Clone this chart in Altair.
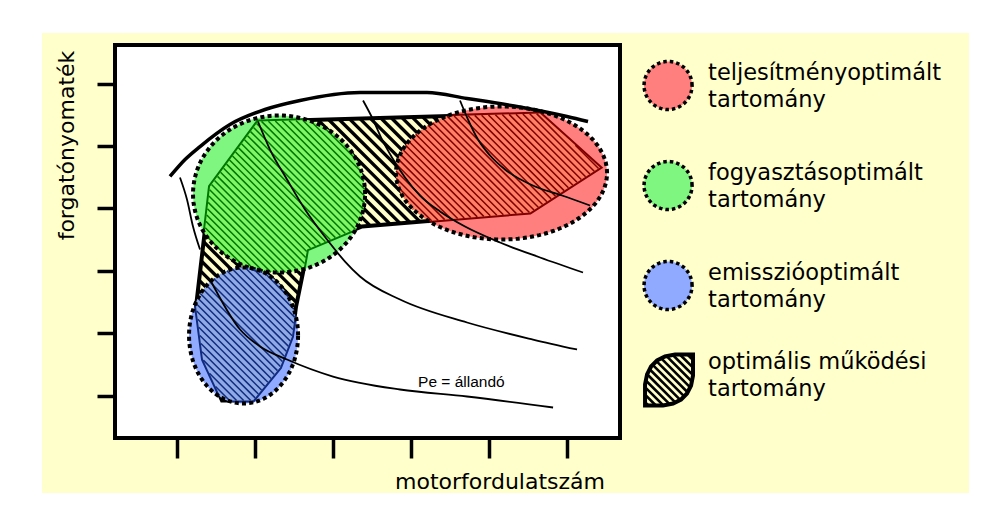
import numpy as np
import pandas as pd
import altair as alt

# ---------------- data (diagram units: ticks 1..6 on both axes) ----------------
tick_vals = [1, 2, 3, 4, 5, 6]

# full-load torque curve (upper envelope)
envelope_x = [0.910, 1.103, 1.295, 1.679, 2.128, 2.577, 3.346, 4.205, 4.718, 5.359, 6.000, 6.269]
envelope_y = [4.510, 4.782, 4.990, 5.343, 5.583, 5.728, 5.856, 5.856, 5.760, 5.631, 5.471, 5.391]

# thin boundary line on the left
leftline_x = [1.038, 1.128, 1.205, 1.295]
leftline_y = [4.494, 4.141, 3.708, 3.340]

# constant power curves (Pe = állandó)
pe_a_x = [1.423, 1.808, 2.064, 2.410, 3.000, 3.859, 4.718, 5.821]
pe_a_y = [2.859, 2.058, 1.785, 1.577, 1.304, 1.096, 0.984, 0.808]
pe_b_x = [2.038, 2.192, 2.410, 2.641, 2.923, 3.154, 3.346, 3.859, 4.718, 5.564, 6.128]
pe_b_y = [5.391, 4.942, 4.462, 3.981, 3.500, 3.147, 2.907, 2.538, 2.170, 1.897, 1.737]
pe_c_x = [3.385, 3.513, 3.628, 3.756, 3.923, 4.115, 4.372, 4.692, 5.141, 5.654, 6.205]
pe_c_y = [5.728, 5.423, 5.103, 4.814, 4.494, 4.205, 3.949, 3.708, 3.452, 3.212, 2.971]
pe_d_x = [4.628, 4.731, 4.859, 5.013, 5.205, 5.590, 5.936, 6.295]
pe_d_y = [5.728, 5.423, 5.103, 4.846, 4.622, 4.349, 4.205, 4.045]

# optimal operating region (hatched polygon)
opt_x = [2.038, 5.654, 6.423, 5.526, 3.372, 2.667, 2.615, 2.526, 2.474, 2.321, 1.974, 1.577, 1.333, 1.244, 1.423]
opt_y = [5.391, 5.519, 4.654, 3.933, 3.708, 3.340, 2.971, 2.426, 1.946, 1.449, 0.920, 0.920, 1.577, 2.426, 4.349]

# optimum regions (ellipses)
region_names = ["teljesítményoptimált", "fogyasztásoptimált", "emisszióoptimált"]
region_colors = ["#ff0000", "#00ee00", "#2255ff"]
region_cx = [5.160, 2.308, 1.853]
region_cy = [4.566, 4.229, 1.962]
region_rx = [1.353, 1.103, 0.699]
region_ry = [1.066, 1.258, 1.090]

# legend
legend_cx = 7.295
legend_cy = [5.968, 4.365, 2.763]
legend_rx = 0.308
legend_ry = 0.385
leaf_x = [7.000, 7.000, 7.026, 7.077, 7.154, 7.256, 7.385, 7.615, 7.615, 7.590, 7.538, 7.462, 7.359, 7.231]
leaf_y = [0.840, 1.176, 1.337, 1.465, 1.561, 1.625, 1.657, 1.657, 1.321, 1.160, 1.032, 0.936, 0.872, 0.840]
legend_text_x = 7.808
legend_labels = ["teljesítményoptimált\ntartomány",
                 "fogyasztásoptimált\ntartomány",
                 "emisszióoptimált\ntartomány",
                 "optimális működési\ntartomány"]
legend_text_y = [6.052, 4.449, 2.847, 1.421]

x_title = "motorfordulatszám"
x_title_pos = (5.141, -0.506)
y_title = "forgatónyomaték"
y_title_pos = (-0.321, 5.006)
pe_label = "Pe = állandó"
pe_label_pos = (4.090, 1.144)

# ---------------- scales ----------------
X0, X1 = 0.205, 6.679
Y0, Y1 = 0.319, 6.617
W, H = 505, 393
SX = W / (X1 - X0)
SY = H / (Y1 - Y0)

xs = alt.Scale(domain=[X0, X1], nice=False, zero=False)
ys = alt.Scale(domain=[Y0, Y1], nice=False, zero=False)
xaxis = alt.Axis(values=tick_vals, labels=False, domain=False, grid=False, ticks=True,
                 tickSize=20, tickWidth=3.5, tickColor="black", title=None, zindex=1)
yaxis = alt.Axis(values=tick_vals, labels=False, domain=False, grid=False, ticks=True,
                 tickSize=18, tickWidth=3.5, tickColor="black", title=None, zindex=1)


def X(f="x"):
    return alt.X(f"{f}:Q", scale=xs, axis=xaxis)


def Y(f="y"):
    return alt.Y(f"{f}:Q", scale=ys, axis=yaxis)


# ---------------- geometry helpers ----------------
def to_screen(xv, yv):
    return (np.asarray(xv, float) - X0) * SX, (np.asarray(yv, float) - Y0) * SY


def from_screen(Xv, Yv):
    return np.asarray(Xv) / SX + X0, np.asarray(Yv) / SY + Y0


def ellipse(cx, cy, rx, ry, n=120):
    t = np.linspace(0, 2 * np.pi, n, endpoint=False)
    return list(cx + rx * np.cos(t)), list(cy + ry * np.sin(t))


def clip_convex(sx, sy, cx_, cy_):
    SXs, SYs = to_screen(sx, sy)
    CXs, CYs = to_screen(cx_, cy_)
    subj = list(zip(SXs, SYs))
    clip = list(zip(CXs, CYs))

    def inside(p, a, b):
        return (b[0] - a[0]) * (p[1] - a[1]) - (b[1] - a[1]) * (p[0] - a[0]) >= 0

    def inter(p, q, a, b):
        x1, y1 = p; x2, y2 = q; x3, y3 = a; x4, y4 = b
        den = (x1 - x2) * (y3 - y4) - (y1 - y2) * (x3 - x4)
        t = ((x1 - x3) * (y3 - y4) - (y1 - y3) * (x3 - x4)) / den
        return (x1 + t * (x2 - x1), y1 + t * (y2 - y1))

    out = subj
    for i in range(len(clip)):
        a = clip[i]; b = clip[(i + 1) % len(clip)]
        inp = out; out = []
        if not inp:
            break
        s = inp[-1]
        for e in inp:
            if inside(e, a, b):
                if not inside(s, a, b):
                    out.append(inter(s, e, a, b))
                out.append(e)
            elif inside(s, a, b):
                out.append(inter(s, e, a, b))
            s = e
    if not out:
        return [], []
    ox, oy = from_screen([p[0] for p in out], [p[1] for p in out])
    return list(ox), list(oy)


def hatch(xv, yv, spacing):
    Xs, Ys = to_screen(xv, yv)
    s = Xs + Ys
    w = Xs - Ys
    n = len(Xs)
    step = spacing * np.sqrt(2)
    k0 = int(np.floor(s.min() / step))
    k1 = int(np.ceil(s.max() / step))
    rows = []
    for k in range(k0, k1 + 1):
        c = k * step + 0.5 * step
        ws = []
        for i in range(n):
            j = (i + 1) % n
            a, b = s[i], s[j]
            if (a <= c < b) or (b <= c < a):
                t = (c - a) / (b - a)
                ws.append(w[i] + t * (w[j] - w[i]))
        ws.sort()
        for m in range(0, len(ws) - 1, 2):
            w1, w2 = ws[m], ws[m + 1]
            xa, ya = from_screen((c + w1) / 2, (c - w1) / 2)
            xb, yb = from_screen((c + w2) / 2, (c - w2) / 2)
            rows.append({"x": float(xa), "y": float(ya), "x2": float(xb), "y2": float(yb)})
    return pd.DataFrame(rows, columns=["x", "y", "x2", "y2"])


def poly_df(xv, yv):
    return pd.DataFrame({"x": list(xv), "y": list(yv), "i": list(range(len(xv)))})


def poly_layer(df, **kw):
    return alt.Chart(df).mark_line(interpolate="linear-closed", **kw).encode(
        x=X(), y=Y(), order=alt.Order("i:Q"))


def hatch_layer(df, width):
    return alt.Chart(df).mark_rule(color="black", strokeWidth=width, strokeCap="butt").encode(
        x=X(), y=Y(), x2=alt.X2("x2:Q"), y2=alt.Y2("y2:Q"))


def curves_layer(curves, width):
    rows = []
    for cid, (cxv, cyv) in enumerate(curves):
        for i, (a, b) in enumerate(zip(cxv, cyv)):
            rows.append({"x": a, "y": b, "i": i, "id": cid})
    return alt.Chart(pd.DataFrame(rows)).mark_line(
        color="black", strokeWidth=width, interpolate="monotone").encode(
        x=X(), y=Y(), detail="id:N", order=alt.Order("i:Q"))


one = pd.DataFrame({"a": [0]})
layers = []

# backgrounds
layers.append(alt.Chart(one).mark_rect(fill="#ffffcc").encode(
    x=alt.value(-73), x2=alt.value(854), y=alt.value(-12), y2=alt.value(448)))
layers.append(alt.Chart(one).mark_rect(fill="white").encode(
    x=alt.value(0), x2=alt.value(W), y=alt.value(0), y2=alt.value(H)))

# optimal region: cream fill + coarse hatch + thick outline
opt_df = poly_df(opt_x, opt_y)
layers.append(poly_layer(opt_df, fill="#ffffcc", strokeOpacity=0))
layers.append(hatch_layer(hatch(opt_x, opt_y, 7.6), 3.3))
layers.append(poly_layer(opt_df, stroke="black", strokeWidth=4, fillOpacity=0))

# fine hatch inside the ellipses (covers inner half of the outline there)
ell = [ellipse(cx, cy, rx, ry) for cx, cy, rx, ry in zip(region_cx, region_cy, region_rx, region_ry)]
for ex, ey in ell:
    ix, iy = clip_convex(opt_x, opt_y, ex, ey)
    if len(ix) >= 3:
        layers.append(poly_layer(poly_df(ix, iy), fill="#ffffcc", strokeOpacity=0))
        layers.append(hatch_layer(hatch(ix, iy, 5.0), 1.5))

# ellipses
for (ex, ey), col in zip(ell, region_colors):
    layers.append(poly_layer(poly_df(ex, ey), fill=col, fillOpacity=0.5, stroke="black",
                             strokeWidth=4, strokeDash=[4, 3.2], strokeCap="butt"))

# curves
layers.append(curves_layer([(leftline_x, leftline_y), (pe_a_x, pe_a_y), (pe_b_x, pe_b_y),
                            (pe_c_x, pe_c_y), (pe_d_x, pe_d_y)], 1.8))
layers.append(curves_layer([(envelope_x, envelope_y)], 3.5))

# frame
layers.append(alt.Chart(one).mark_rect(filled=False, stroke="black", strokeWidth=4).encode(
    x=alt.value(0), x2=alt.value(W), y=alt.value(0), y2=alt.value(H)))

# legend symbols
for cy, col in zip(legend_cy, region_colors):
    lx, ly = ellipse(legend_cx, cy, legend_rx, legend_ry, 60)
    d = poly_df(lx, ly)
    layers.append(poly_layer(d, fill="white", strokeOpacity=0))
    layers.append(poly_layer(d, fill=col, fillOpacity=0.5, stroke="black", strokeWidth=3.5,
                             strokeDash=[3.5, 3], strokeCap="butt"))
leaf_df = poly_df(leaf_x, leaf_y)
layers.append(poly_layer(leaf_df, fill="#ffffcc", strokeOpacity=0))
layers.append(hatch_layer(hatch(leaf_x, leaf_y, 5.3), 2.6))
layers.append(poly_layer(leaf_df, stroke="black", strokeWidth=4, fillOpacity=0))

# texts
legend_df = pd.DataFrame({"x": [legend_text_x] * len(legend_labels), "y": legend_text_y, "t": legend_labels})
layers.append(alt.Chart(legend_df).mark_text(
    align="left", baseline="alphabetic", font="DejaVu Sans", fontSize=22.5, lineHeight=26.5,
    lineBreak="\n", color="black").encode(x=X(), y=Y(), text="t:N"))
layers.append(alt.Chart(pd.DataFrame([{"x": x_title_pos[0], "y": x_title_pos[1], "t": x_title}])).mark_text(
    align="center", baseline="alphabetic", font="DejaVu Sans", fontSize=22, color="black").encode(
    x=X(), y=Y(), text="t:N"))
layers.append(alt.Chart(pd.DataFrame([{"x": y_title_pos[0], "y": y_title_pos[1], "t": y_title}])).mark_text(
    align="center", baseline="alphabetic", font="DejaVu Sans", fontSize=22, angle=270, color="black").encode(
    x=X(), y=Y(), text="t:N"))
layers.append(alt.Chart(pd.DataFrame([{"x": pe_label_pos[0], "y": pe_label_pos[1], "t": pe_label}])).mark_text(
    align="left", baseline="alphabetic", font="Liberation Sans", fontSize=15.5, color="black").encode(
    x=X(), y=Y(), text="t:N"))

chart = alt.layer(*layers).properties(
    width=W, height=H,
    autosize=alt.AutoSizeParams(type="none"),
    padding={"left": 107, "top": 37, "right": 380, "bottom": 74},
    background="white",
).configure_view(strokeWidth=0)

chart.save("out.html", embed_options={"renderer": "svg", "actions": False})
